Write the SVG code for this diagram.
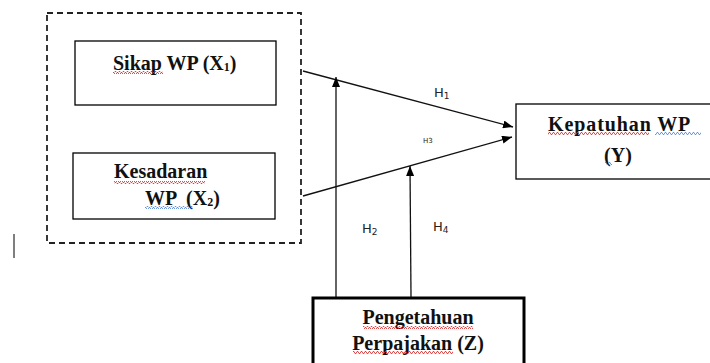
<svg xmlns="http://www.w3.org/2000/svg" width="710" height="363" viewBox="0 0 710 363">
<style>
.box{fill:#fff;stroke:#000;stroke-width:1.3}
.t{font-family:"Liberation Serif","Times New Roman",serif;font-weight:bold;font-size:20px;fill:#111}
.sub{font-size:12px}
.lbl{font-family:"DejaVu Sans",sans-serif;font-size:13px;fill:#222}
.conn{stroke:#111;stroke-width:1.3;fill:none}
</style>
<defs>
<marker id="ah" viewBox="0 0 10 8" refX="10" refY="4" markerWidth="10" markerHeight="8" markerUnits="userSpaceOnUse" orient="auto">
<path d="M0,0 L10,4 L0,8 Z" fill="#000"/>
</marker>
<pattern id="rw" width="4" height="3" patternUnits="userSpaceOnUse">
<path d="M0,2.5 L1,0.5 L2,0.5 L3,2.5 L4,2.5" fill="none" stroke="#e02020" stroke-width="0.8"/>
</pattern>
<pattern id="bw" width="4" height="3" patternUnits="userSpaceOnUse">
<path d="M0,2.5 L1,0.5 L2,0.5 L3,2.5 L4,2.5" fill="none" stroke="#4a7fe0" stroke-width="0.8"/>
</pattern>
</defs>
<rect width="710" height="363" fill="#fff"/>
<g id="group-x">
<rect x="47" y="13" width="254" height="230" fill="none" stroke="#222" stroke-width="1.8" stroke-dasharray="6,4"/>
</g>
<g id="connectors">
<line class="conn" x1="303" y1="71" x2="513" y2="127" marker-end="url(#ah)"/>
<line class="conn" x1="303" y1="196" x2="512" y2="137" marker-end="url(#ah)"/>
<line class="conn" x1="336" y1="297" x2="336" y2="77" marker-end="url(#ah)"/>
<line class="conn" x1="411" y1="297" x2="410" y2="166" marker-end="url(#ah)"/>
<text class="lbl" x="434" y="97">H<tspan font-size="9" dy="2">1</tspan></text>
<text class="lbl" x="423" y="143" style="font-size:7px">H3</text>
<text class="lbl" x="362" y="233">H<tspan font-size="9" dy="2">2</tspan></text>
<text class="lbl" x="433" y="231">H<tspan font-size="9" dy="2">4</tspan></text>
</g>
<g id="sikap">
<rect class="box" x="75" y="41" width="201" height="64"/>
<text class="t" x="113" y="70">Sikap WP (X<tspan class="sub" dy="1">1</tspan><tspan dy="-1">)</tspan></text>
<rect x="113" y="71" width="50" height="3" fill="url(#rw)"/>
</g>
<g id="kesadaran">
<rect class="box" x="73" y="153" width="202" height="66"/>
<text class="t" x="114" y="178">Kesadaran</text>
<text class="t" x="145" y="205" xml:space="preserve">WP  (X<tspan class="sub" dy="1">2</tspan><tspan dy="-1">)</tspan></text>
<rect x="114" y="181" width="91" height="3" fill="url(#rw)"/>
<rect x="145" y="206" width="48" height="3" fill="url(#bw)"/>
</g>
<g id="kepatuhan">
<rect class="box" x="516" y="104" width="200" height="75"/>
<text class="t" x="548" y="131" letter-spacing="0.9">Kepatuhan WP</text>
<text class="t" x="618" y="162" text-anchor="middle">(Y)</text>
<rect x="548" y="132" width="101" height="3" fill="url(#rw)"/>
<rect x="655" y="132" width="46" height="3" fill="url(#bw)"/>
<rect x="605" y="162" width="7" height="3" fill="url(#bw)"/>
</g>
<g id="pengetahuan">
<rect x="313" y="298" width="211" height="70" fill="#fff" stroke="#000" stroke-width="3"/>
<text class="t" x="418" y="324" text-anchor="middle">Pengetahuan</text>
<text class="t" x="418" y="350" text-anchor="middle">Perpajakan (Z)</text>
<rect x="363" y="326" width="110" height="3" fill="url(#rw)"/>
<rect x="353" y="351" width="100" height="3" fill="url(#rw)"/>
</g>
<line x1="14" y1="234" x2="14" y2="258" stroke="#555" stroke-width="1.5"/>
</svg>
